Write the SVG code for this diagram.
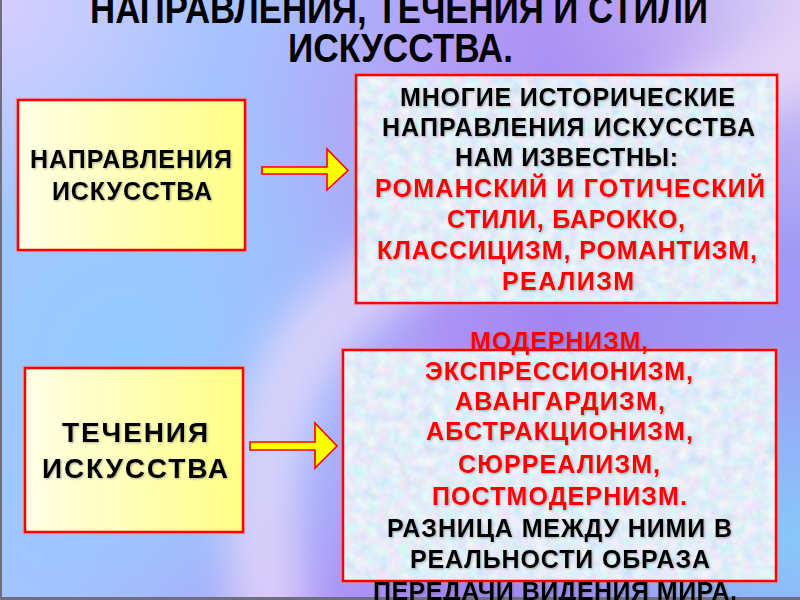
<svg xmlns="http://www.w3.org/2000/svg" width="800" height="600" viewBox="0 0 800 600">
  <defs>
    <linearGradient id="bgBase" x1="0" y1="0" x2="1" y2="0.25">
      <stop offset="0" stop-color="#a9c9ff"/>
      <stop offset="0.3" stop-color="#a7c1ff"/>
      <stop offset="0.55" stop-color="#b39cf6"/>
      <stop offset="0.78" stop-color="#a286f2"/>
      <stop offset="1" stop-color="#9f98f4"/>
    </linearGradient>
    <radialGradient id="blueL" cx="130" cy="360" r="320" gradientUnits="userSpaceOnUse">
      <stop offset="0" stop-color="#94cbff" stop-opacity="1"/>
      <stop offset="0.6" stop-color="#98c8ff" stop-opacity="0.6"/>
      <stop offset="1" stop-color="#98c8ff" stop-opacity="0"/>
    </radialGradient>
    <radialGradient id="lavTL" cx="0" cy="0" r="220" gradientUnits="userSpaceOnUse">
      <stop offset="0" stop-color="#d6cefe" stop-opacity="1"/>
      <stop offset="1" stop-color="#d6cefe" stop-opacity="0"/>
    </radialGradient>
    <radialGradient id="lavTR" cx="800" cy="0" r="260" gradientUnits="userSpaceOnUse">
      <stop offset="0" stop-color="#dcd0f6" stop-opacity="1"/>
      <stop offset="1" stop-color="#dcd0f6" stop-opacity="0"/>
    </radialGradient>
    <radialGradient id="blueBR" cx="800" cy="540" r="220" gradientUnits="userSpaceOnUse">
      <stop offset="0" stop-color="#88c8fa" stop-opacity="1"/>
      <stop offset="1" stop-color="#88c8fa" stop-opacity="0"/>
    </radialGradient>
    <filter id="soft" x="-50%" y="-50%" width="200%" height="200%">
      <feGaussianBlur stdDeviation="18"/>
    </filter>
    <linearGradient id="yellowFill" x1="0" y1="0" x2="1" y2="0">
      <stop offset="0" stop-color="#fffee6"/>
      <stop offset="1" stop-color="#ffff86"/>
    </linearGradient>
    <filter id="marble" x="0" y="0" width="100%" height="100%">
      <feTurbulence type="fractalNoise" baseFrequency="0.09" numOctaves="4" seed="7" result="n"/>
      <feColorMatrix in="n" type="matrix" values="0.5 0 0 0 0.52  0 0.32 0 0 0.69  0 0 0.2 0 0.84  0 0 0 0 1"/>
    </filter>
    <filter id="shadow" x="-10%" y="-20%" width="120%" height="140%">
      <feDropShadow dx="1" dy="1" stdDeviation="0.8" flood-color="#555" flood-opacity="0.45"/>
    </filter>
    <style>
      .frame { fill: none; stroke: #ff0000; stroke-width: 2.5; }
      .glow { fill: none; stroke: #ff9090; stroke-width: 5; stroke-opacity: 0.45; }
      .t { font-family: "Liberation Sans", Arial, sans-serif; font-weight: bold; text-anchor: middle; }
      .title { font-size: 40px; fill: #000; }
      .lbl { fill: #000; filter: url(#shadow); }
      .blk { font-size: 25px; fill: #000; filter: url(#shadow); }
      .red { font-size: 25px; fill: #ff0000; filter: url(#shadow); }
      .arrow { fill: #ffff00; stroke: #ff0000; stroke-width: 1.6; stroke-linejoin: miter; }
    </style>
  </defs>

  <!-- background -->
  <g id="background">
    <rect x="0" y="0" width="800" height="600" fill="url(#bgBase)"/>
    <rect x="0" y="0" width="800" height="600" fill="url(#blueL)"/>
    <rect x="0" y="0" width="800" height="600" fill="url(#lavTL)"/>
    <rect x="0" y="0" width="800" height="600" fill="url(#lavTR)"/>
    <rect x="0" y="0" width="800" height="600" fill="url(#blueBR)"/>
    <path d="M 840 40 C 620 150, 360 250, 300 360 S 270 560, 270 640" fill="none" stroke="#ecdcfa" stroke-width="70" stroke-opacity="0.7" filter="url(#soft)"/>
    <line x1="1" y1="0" x2="1" y2="600" stroke="#6e6e80" stroke-width="2"/>
    <line x1="0" y1="598.5" x2="800" y2="598.5" stroke="#6e6e80" stroke-width="3"/>
  </g>

  <!-- title -->
  <g id="title">
    <text class="t title" x="399" y="23" textLength="618" lengthAdjust="spacingAndGlyphs">НАПРАВЛЕНИЯ, ТЕЧЕНИЯ И СТИЛИ</text>
    <text class="t title" x="400.5" y="62" textLength="225" lengthAdjust="spacingAndGlyphs">ИСКУССТВА.</text>
  </g>

  <!-- connectors -->
  <g id="connectors">
    <path class="arrow" d="M 262 167 L 327 167 L 327 149 L 348 170.5 L 327 190 L 327 174 L 262 174 Z"/>
    <path class="arrow" d="M 250 442 L 315 442 L 315 423 L 337 446 L 315 468 L 315 450 L 250 450 Z"/>
  </g>

  <!-- node: направления искусства -->
  <g id="node-napravleniya">
    <rect class="glow" x="18" y="100" width="227" height="150"/>
    <rect x="18" y="100" width="227" height="150" class="frame" style="fill:url(#yellowFill)"/>
    <text class="t lbl" x="131" y="168" font-size="25" textLength="202" lengthAdjust="spacing">НАПРАВЛЕНИЯ</text>
    <text class="t lbl" x="132" y="200" font-size="25" textLength="160" lengthAdjust="spacing">ИСКУССТВА</text>
  </g>

  <!-- node: historical directions -->
  <g id="node-historical">
    <rect class="glow" x="356" y="75" width="421" height="228"/>
    <rect x="356" y="75" width="421" height="228" fill="#d0e0f2" filter="url(#marble)"/>
    <rect class="frame" x="356" y="75" width="421" height="228"/>
    <text class="t blk" x="567.5" y="106" textLength="335" lengthAdjust="spacing">МНОГИЕ ИСТОРИЧЕСКИЕ</text>
    <text class="t blk" x="568.5" y="136" textLength="373" lengthAdjust="spacing">НАПРАВЛЕНИЯ ИСКУССТВА</text>
    <text class="t blk" x="566.5" y="166" textLength="223" lengthAdjust="spacing">НАМ ИЗВЕСТНЫ:</text>
    <text class="t red" x="570" y="197" textLength="390" lengthAdjust="spacing">РОМАНСКИЙ И ГОТИЧЕСКИЙ</text>
    <text class="t red" x="566" y="228" textLength="238" lengthAdjust="spacing">СТИЛИ, БАРОККО,</text>
    <text class="t red" x="567" y="259" textLength="380" lengthAdjust="spacing">КЛАССИЦИЗМ, РОМАНТИЗМ,</text>
    <text class="t red" x="568" y="290" textLength="132" lengthAdjust="spacing">РЕАЛИЗМ</text>
  </g>

  <!-- node: течения искусства -->
  <g id="node-techeniya">
    <rect class="glow" x="25" y="368" width="218" height="164"/>
    <rect x="25" y="368" width="218" height="164" class="frame" style="fill:url(#yellowFill)"/>
    <text class="t lbl" x="135" y="442" font-size="28" textLength="146" lengthAdjust="spacing">ТЕЧЕНИЯ</text>
    <text class="t lbl" x="135" y="478" font-size="28" textLength="186" lengthAdjust="spacing">ИСКУССТВА</text>
  </g>

  <!-- node: modern trends -->
  <g id="node-modern">
    <rect class="glow" x="343" y="350" width="433" height="231"/>
    <rect x="343" y="350" width="433" height="231" fill="#d0e0f2" filter="url(#marble)"/>
    <rect class="frame" x="343" y="350" width="433" height="231"/>
    <text class="t red" x="559" y="350" textLength="178" lengthAdjust="spacing">МОДЕРНИЗМ,</text>
    <text class="t red" x="559" y="380" textLength="268" lengthAdjust="spacing">ЭКСПРЕССИОНИЗМ,</text>
    <text class="t red" x="560" y="410" textLength="210" lengthAdjust="spacing">АВАНГАРДИЗМ,</text>
    <text class="t red" x="559.5" y="440" textLength="267" lengthAdjust="spacing">АБСТРАКЦИОНИЗМ,</text>
    <text class="t red" x="559" y="473" textLength="202" lengthAdjust="spacing">СЮРРЕАЛИЗМ,</text>
    <text class="t red" x="559.5" y="505" textLength="255" lengthAdjust="spacing">ПОСТМОДЕРНИЗМ.</text>
    <text class="t blk" x="559.5" y="537" textLength="345" lengthAdjust="spacing">РАЗНИЦА МЕЖДУ НИМИ В</text>
    <text class="t blk" x="560" y="568" textLength="300" lengthAdjust="spacing">РЕАЛЬНОСТИ ОБРАЗА</text>
    <text class="t blk" x="555" y="600" textLength="364" lengthAdjust="spacing">ПЕРЕДАЧИ ВИДЕНИЯ МИРА.</text>
  </g>
</svg>
